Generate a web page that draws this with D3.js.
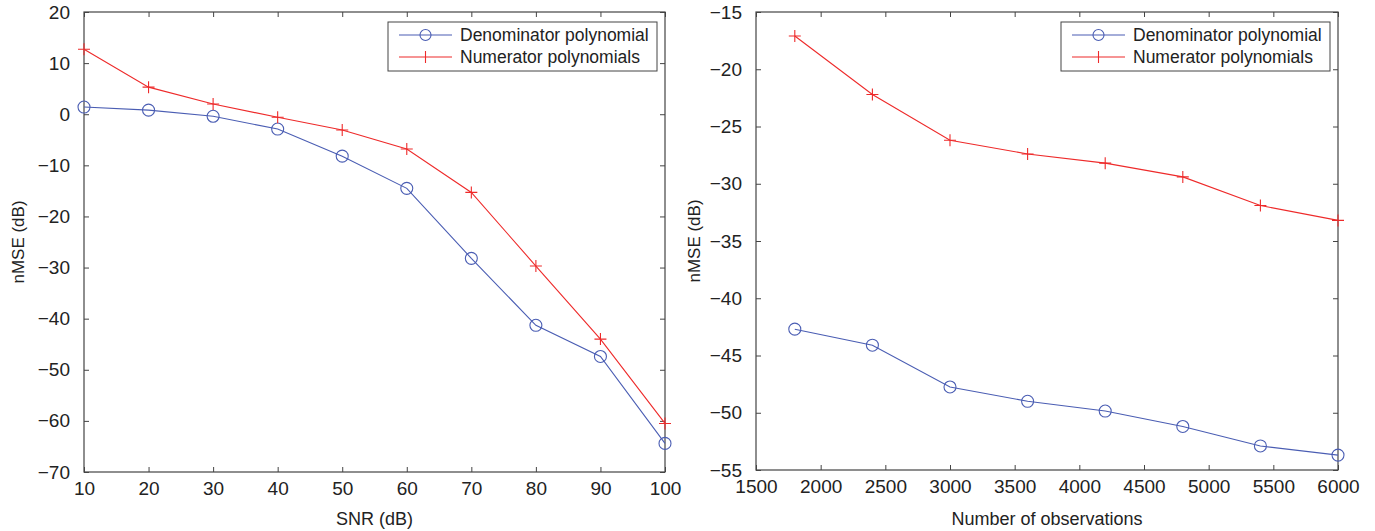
<!DOCTYPE html>
<html><head><meta charset="utf-8">
<script src="https://cdn.jsdelivr.net/npm/d3@7"></script>
<style>body{margin:0;background:#fff}text{font-family:"Liberation Sans",Arial,sans-serif;fill:#222}
.n{font-family:"Liberation Sans Narrow","Arial Narrow","Liberation Sans",sans-serif}</style>
</head><body><svg id="c" width="1375" height="531"></svg>
<script>
const snr = [10,20,30,40,50,60,70,80,90,100];
const snrDenom = [1.4,0.8,-0.4,-2.9,-8.2,-14.5,-28.2,-41.3,-47.4,-64.4];
const snrNumer = [12.7,5.3,2.0,-0.6,-3.1,-6.8,-15.3,-29.7,-44.0,-60.5];
const obs = [1800,2400,3000,3600,4200,4800,5400,6000];
const obsDenom = [-42.7,-44.1,-47.75,-49.0,-49.85,-51.2,-52.9,-53.7];
const obsNumer = [-17.1,-22.2,-26.2,-27.4,-28.2,-29.4,-31.9,-33.2];
const leftXTicks = [10,20,30,40,50,60,70,80,90,100];
const leftYTicks = [20,10,0,-10,-20,-30,-40,-50,-60,-70];
const rightXTicks = [1500,2000,2500,3000,3500,4000,4500,5000,5500,6000];
const rightYTicks = [-15,-20,-25,-30,-35,-40,-45,-50,-55];
const seriesNames = ["Denominator polynomial","Numerator polynomials"];
const blue = "#4a5db3", red = "#ee2a2a", axisCol = "#444";

const svg = d3.select("#c");
const fmt = v => String(v).replace("-", "\u2212");

function panel(o){
  const x = d3.scaleLinear().domain(o.xd).range([o.x0,o.x1]);
  const y = d3.scaleLinear().domain(o.yd).range([o.y1,o.y0]);
  const g = svg.append("g");
  g.append("rect").attr("x",o.x0).attr("y",o.y0).attr("width",o.x1-o.x0).attr("height",o.y1-o.y0)
    .attr("fill","none").attr("stroke",axisCol).attr("stroke-width",1.2);
  const tl=5;
  const bx = g.append("g").attr("transform",`translate(0,${o.y1})`)
    .call(d3.axisBottom(x).tickValues(o.xt).tickSize(-tl).tickPadding(10).tickFormat(fmt));
  const tx = g.append("g").attr("transform",`translate(0,${o.y0})`)
    .call(d3.axisTop(x).tickValues(o.xt).tickSize(-tl).tickFormat(""));
  const ly = g.append("g").attr("transform",`translate(${o.x0},0)`)
    .call(d3.axisLeft(y).tickValues(o.yt).tickSize(-tl).tickPadding(14).tickFormat(fmt));
  const ry = g.append("g").attr("transform",`translate(${o.x1},0)`)
    .call(d3.axisRight(y).tickValues(o.yt).tickSize(-tl).tickFormat(""));
  [bx,tx,ly,ry].forEach(a=>{a.select(".domain").remove();a.selectAll("line").attr("stroke",axisCol);
    a.selectAll("text").attr("class","n").style("font-size","19px").attr("fill","#222");});
  g.append("text").attr("class","n").attr("x",(o.x0+o.x1)/2).attr("y",525).attr("text-anchor","middle").style("font-size","18px").text(o.xl);
  g.append("text").attr("class","n").attr("transform",`translate(${o.ylx},${(o.y0+o.y1)/2}) rotate(-90)`).attr("text-anchor","middle").style("font-size","17px").text("nMSE (dB)");
  const line = d3.line().x(d=>x(d[0])).y(d=>y(d[1]));
  const dd = o.xs.map((v,i)=>[v,o.den[i]]), nd = o.xs.map((v,i)=>[v,o.num[i]]);
  g.append("path").attr("d",line(dd)).attr("fill","none").attr("stroke",blue).attr("stroke-width",1.1);
  g.append("path").attr("d",line(nd)).attr("fill","none").attr("stroke",red).attr("stroke-width",1.1);
  g.selectAll(".c").data(dd).enter().append("circle").attr("cx",d=>x(d[0])).attr("cy",d=>y(d[1])).attr("r",6)
    .attr("fill","none").attr("stroke",blue).attr("stroke-width",1.1);
  g.selectAll(".p").data(nd).enter().append("path").attr("d",d=>`M${x(d[0])-6},${y(d[1])}h12M${x(d[0])},${y(d[1])-6}v12`)
    .attr("stroke",red).attr("stroke-width",1.1);
  const lg = g.append("g").attr("transform",`translate(${o.lx},22)`);
  lg.append("rect").attr("width",269).attr("height",49).attr("fill","#fff").attr("stroke",axisCol).attr("stroke-width",1);
  [[blue,0],[red,1]].forEach(([c,i])=>{
    const yy = 13+i*22;
    lg.append("line").attr("x1",11).attr("x2",64).attr("y1",yy).attr("y2",yy).attr("stroke",c).attr("stroke-width",1.1);
    if(i===0) lg.append("circle").attr("cx",37.5).attr("cy",yy).attr("r",5.5).attr("fill","none").attr("stroke",c).attr("stroke-width",1.1);
    else lg.append("path").attr("d",`M37.5,${yy-6}v12`).attr("stroke",c).attr("stroke-width",1.1);
    lg.append("text").attr("x",72).attr("y",yy+6).style("font-size","17.5px").text(seriesNames[i]);
  });
}
panel({x0:84,x1:665,y0:12,y1:472,xd:[10,100],yd:[-70,20],xt:leftXTicks,yt:leftYTicks,xs:snr,den:snrDenom,num:snrNumer,xl:"SNR (dB)",ylx:24,lx:388});
panel({x0:756,x1:1338,y0:12,y1:470,xd:[1500,6000],yd:[-55,-15],xt:rightXTicks,yt:rightYTicks,xs:obs,den:obsDenom,num:obsNumer,xl:"Number of observations",ylx:700,lx:1061});
</script></body></html>
